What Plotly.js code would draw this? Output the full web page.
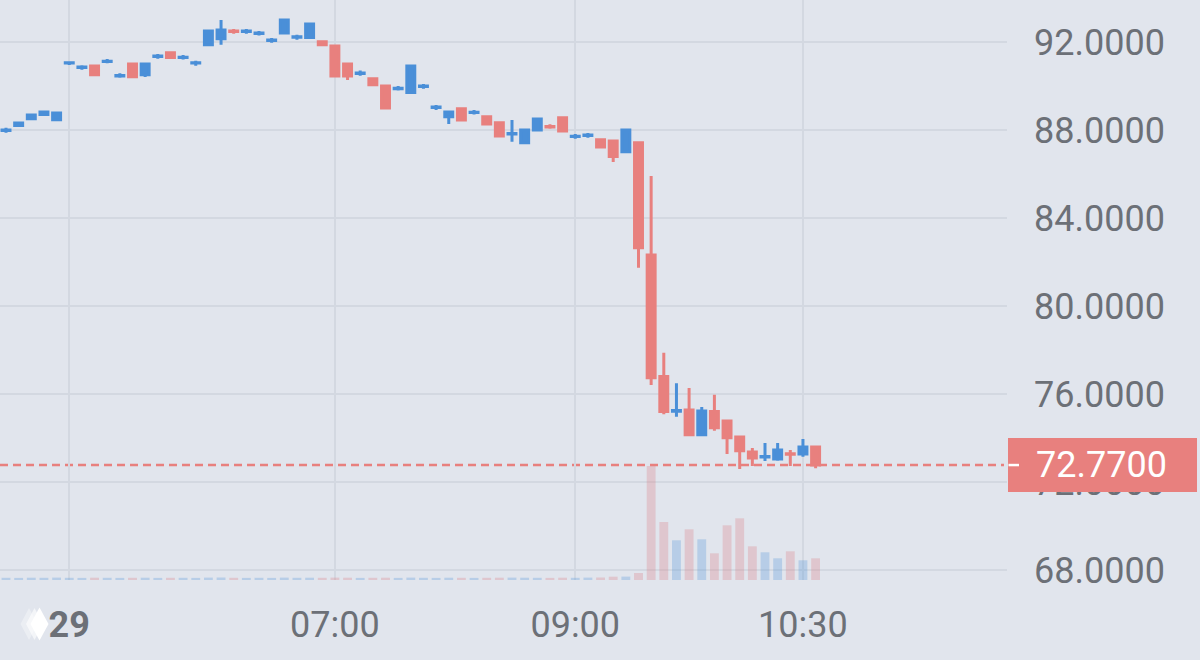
<!DOCTYPE html>
<html>
<head>
<meta charset="utf-8">
<script src="https://cdn.plot.ly/plotly-3.0.1.min.js"></script>
<style>
html,body{margin:0;padding:0;background:#e1e5ed;}
#chart{width:1200px;height:660px;}
</style>
</head>
<body>
<div id="chart"></div>
<script>
// ---- data (one entry per candle, oldest first) ----
const opens  = [87.98,88.20,88.51,88.70,88.47,91.04,90.84,90.91,91.11,90.46,
                91.00,90.51,91.34,91.51,91.29,91.04,91.88,92.15,92.50,92.48,
                92.39,92.07,92.41,92.22,92.20,92.01,91.82,91.00,90.57,90.33,
                90.00,89.88,89.70,89.98,89.02,88.60,88.97,88.79,88.60,88.33,
                87.82,87.42,88.00,88.16,88.56,87.70,87.75,87.56,87.50,87.01,
                87.42,82.32,76.79,75.22,75.27,74.15,75.20,74.77,74.05,73.36,
                73.14,73.05,73.28,73.27,73.59];
const highs  = [88.10,88.33,88.69,88.83,88.78,91.12,90.94,90.92,91.23,90.58,
                91.01,91.00,91.45,91.52,91.41,91.15,92.50,93.00,92.59,92.59,
                92.50,92.18,93.00,92.33,92.82,92.02,91.83,91.01,90.70,90.38,
                90.01,90.00,90.91,90.09,89.14,88.82,89.01,88.91,88.61,88.34,
                88.45,88.00,88.50,88.26,88.57,87.82,87.86,87.60,87.51,88.00,
                87.43,85.91,77.88,76.49,76.27,75.41,75.97,74.78,74.06,73.55,
                73.77,73.77,73.45,73.95,73.60];
const lows   = [87.88,88.19,88.50,88.69,88.46,90.95,90.74,90.47,91.03,90.38,
                90.42,90.41,91.24,91.29,91.20,90.92,91.87,91.88,92.38,92.38,
                92.30,91.97,92.40,92.10,92.19,91.88,90.45,90.27,90.47,90.06,
                89.00,89.79,89.69,89.88,88.91,88.27,88.45,88.70,88.27,87.73,
                87.47,87.41,87.99,88.06,87.95,87.60,87.65,87.23,86.55,86.97,
                81.74,76.41,75.08,74.97,74.14,74.14,74.33,73.27,72.59,72.73,
                72.95,72.97,72.73,73.15,72.62];
const closes = [88.00,88.32,88.68,88.82,88.77,91.06,90.86,90.51,91.13,90.48,
                90.42,91.00,91.36,91.29,91.31,91.06,92.50,92.55,92.48,92.50,
                92.41,92.09,93.00,92.24,92.82,91.88,90.45,90.45,90.59,90.06,
                89.00,89.90,90.91,90.00,89.04,88.82,88.45,88.81,88.27,87.73,
                87.84,88.00,88.50,88.14,87.95,87.72,87.77,87.23,86.79,88.00,
                82.65,76.74,75.20,75.25,74.15,75.23,74.47,74.01,73.42,73.09,
                73.16,73.45,73.26,73.59,72.77];
const volumes = [22,21,23,22,24,22,21,23,22,21,
                 22,23,21,22,22,21,24,25,22,21,
                 22,21,24,22,23,22,24,23,21,22,
                 23,21,24,22,21,23,22,21,22,23,
                 24,23,22,21,23,22,24,25,33,34,
                 70,1140,580,397,507,407,267,547,617,337,
                 277,217,287,197,217];
const tickPos    = [5, 26, 45, 63];
const tickLabels = ["<b>29</b>", "07:00", "09:00", "10:30"];
const priceTicks = [68, 72, 76, 80, 84, 88, 92];
const lastPrice  = 72.77;

// ---- styling ----
const BG = '#e1e5ed', GRID = '#d3d8e1', TXT = '#6c7077';
const BLUE = '#4a8fd8', RED = '#e8807e';
const BLUE_V = 'rgba(74,143,216,0.28)', RED_V = 'rgba(220,120,126,0.28)';
const FONT = 'Roboto, "Open Sans", sans-serif';

const W = 1200, H = 660, ML = 0, MR = 193, MT = 0, MB = 80;
const PW = W - ML - MR, PH = H - MT - MB;
const pxX = p => p / PW;
const pxY = p => (PH - p) / PH;

const idx = closes.map((_, i) => i);
const volColors = closes.map((c, i) => c >= opens[i] ? BLUE_V : RED_V);

const candles = {
  type: 'candlestick', x: idx, open: opens, high: highs, low: lows, close: closes,
  increasing: {line: {color: BLUE, width: 3}, fillcolor: BLUE},
  decreasing: {line: {color: RED, width: 3}, fillcolor: RED},
  whiskerwidth: 0, hoverinfo: 'skip', xaxis: 'x', yaxis: 'y'
};
const vol = {
  type: 'bar', x: idx, y: volumes, width: 0.7,
  marker: {color: volColors, line: {width: 0}},
  hoverinfo: 'skip', xaxis: 'x', yaxis: 'y2'
};

// logo diamonds next to the date label
function diamond(cx, cy, hw, hh) {
  return `M ${pxX(cx)},${pxY(cy - hh)} L ${pxX(cx + hw)},${pxY(cy)} L ${pxX(cx)},${pxY(cy + hh)} L ${pxX(cx - hw)},${pxY(cy)} Z`;
}

const shapes = [
  {type: 'line', xref: 'paper', yref: 'y', x0: 0, x1: pxX(1004), y0: lastPrice, y1: lastPrice,
   line: {color: RED, width: 2.5, dash: '8px,5px'}, layer: 'between'},
  {type: 'rect', xref: 'paper', yref: 'y', x0: pxX(1008), x1: pxX(1197),
   ysizemode: 'pixel', yanchor: lastPrice, y0: -27, y1: 27,
   fillcolor: RED, line: {width: 0}, layer: 'above'},
  {type: 'line', xref: 'paper', yref: 'y', x0: pxX(1008.5), x1: pxX(1019), y0: lastPrice, y1: lastPrice,
   line: {color: '#ffffff', width: 2.5}, layer: 'above'},
  {type: 'path', xref: 'paper', yref: 'paper', path: diamond(29, 624, 8.5, 16),
   fillcolor: 'rgba(255,255,255,0.35)', line: {width: 0}},
  {type: 'path', xref: 'paper', yref: 'paper', path: diamond(34.5, 624, 8.5, 16),
   fillcolor: 'rgba(255,255,255,0.6)', line: {width: 0}},
  {type: 'path', xref: 'paper', yref: 'paper', path: diamond(39.5, 624, 9, 16.5),
   fillcolor: '#ffffff', line: {width: 0}}
];

const annotations = [
  {xref: 'paper', yref: 'y', x: pxX(1034), y: lastPrice, xanchor: 'left', yanchor: 'middle',
   text: lastPrice.toFixed(4), showarrow: false, font: {family: FONT, size: 36, color: '#ffffff'}}
];

const layout = {
  width: W, height: H, margin: {l: ML, r: MR, t: MT, b: MB, pad: 0},
  paper_bgcolor: BG, plot_bgcolor: BG, showlegend: false,
  boxgap: 0.37, boxgroupgap: 0, bargap: 0.3,
  xaxis: {
    range: [(0 - 6) / 12.65, (PW - 6) / 12.65],
    rangeslider: {visible: false},
    tickmode: 'array', tickvals: tickPos, ticktext: tickLabels,
    showgrid: true, gridcolor: GRID, gridwidth: 2,
    zeroline: false, showline: false, ticks: '',
    tickfont: {family: FONT, size: 36, color: TXT},
    ticklabelstandoff: 20, fixedrange: true
  },
  yaxis: {
    side: 'right', range: [67.545, 93.909],
    tickmode: 'array', tickvals: priceTicks, tickformat: '.4f',
    showgrid: true, gridcolor: GRID, gridwidth: 2,
    zeroline: false, showline: false, ticks: '',
    tickfont: {family: FONT, size: 36, color: TXT},
    ticklabelstandoff: 26, fixedrange: true
  },
  yaxis2: {overlaying: 'y', range: [0, 5800], visible: false, fixedrange: true},
  shapes: shapes, annotations: annotations
};

Plotly.newPlot('chart', [vol, candles], layout, {staticPlot: true, displayModeBar: false});
</script>
</body>
</html>
